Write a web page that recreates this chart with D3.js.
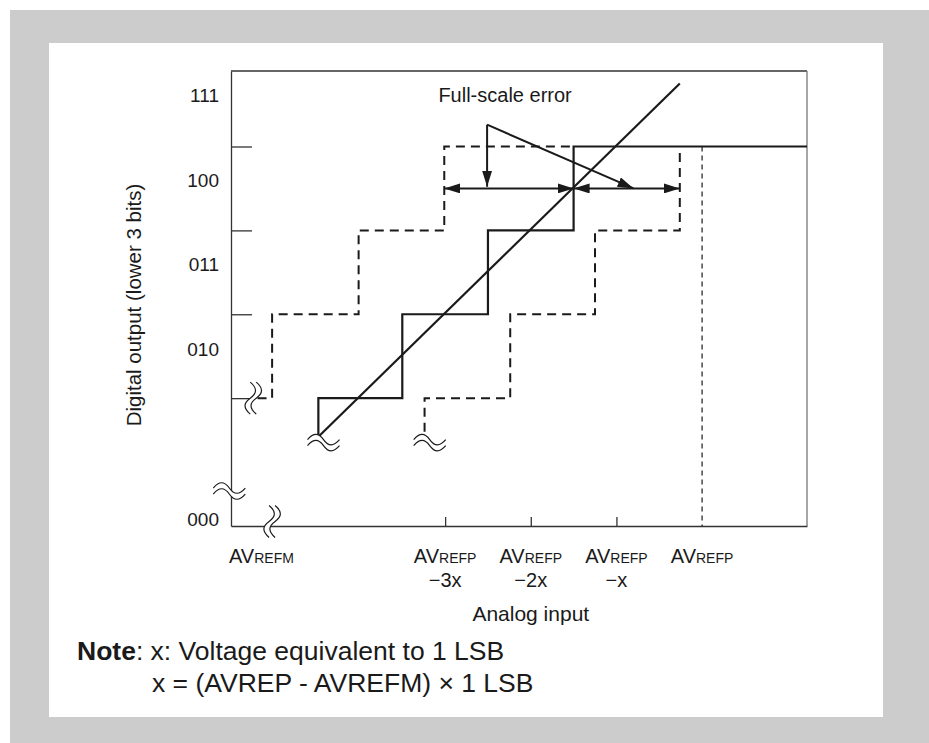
<!DOCTYPE html>
<html>
<head>
<meta charset="utf-8">
<script src="https://cdn.jsdelivr.net/npm/d3@7"></script>
<style>
body { margin: 0; background: #fff; }
svg { display: block; font-family: "Liberation Sans", Arial, sans-serif; }
</style>
</head>
<body>
<div id="chart"></div>
<script>
// y: output code levels (1 unit = 1 LSB step), x: analog input in LSB relative to AVREFP
const codeLabels = ["000", "010", "011", "100", "111"];
const codeLabelLevels = [-0.45, 1.585, 2.59, 3.6, 4.61];
const codeTicks = [1, 2, 3, 4];

const inputTicks = [-3, -2, -1];
const inputLabelPos = [-5.5, -3, -2, -1, 0];
const inputLabelMain = ["AV", "AV", "AV", "AV", "AV"];
const inputLabelSub = ["REFM", "REFP", "REFP", "REFP", "REFP"];
const inputLabelLine2 = ["", "\u22123x", "\u22122x", "\u2212x", ""];

// ideal conversion (solid staircase) and straight transfer line
const idealSteps = [[-4.48, 0.54], [-4.48, 1], [-3.5, 1], [-3.5, 2], [-2.5, 2], [-2.5, 3], [-1.5, 3], [-1.5, 4], [1.225, 4]];
const transferLine = [[-4.48, 0.54], [-0.26, 4.75]];
// full-scale error limits (dashed staircases)
const earlySteps = [[-5.19, 1], [-5.02, 1], [-5.02, 2], [-4.01, 2], [-4.01, 3], [-3.01, 3], [-3.01, 4], [-1.5, 4]];
const lateSteps = [[-3.24, 0.6], [-3.24, 1], [-2.24, 1], [-2.24, 2], [-1.25, 2], [-1.25, 3], [-0.26, 3], [-0.26, 4]];
const refpLine = [[0, 4], [0, -0.524]];

// error spans and callout
const errorSpans = [[-3.01, -1.5], [-1.5, -0.26]];
const spanLevel = 3.5;
const calloutVertex = [-2.51, 4.26];
const calloutTargets = [[-2.51, 3.52], [-0.8, 3.5]];
const calloutText = "Full-scale error";
const calloutTextPos = [-2.3, 4.61];

// break marks
const breaks = [
    { x: -5.52, y: -0.107, dir: "h" },
    { x: -5.02, y: -0.47, dir: "v" },
    { x: -5.24, y: 1, dir: "v" },
    { x: -4.42, y: 0.47, dir: "h" },
    { x: -3.18, y: 0.47, dir: "h" }
];

const W = 929, H = 743;
const svg = d3.select("#chart").append("svg").attr("width", W).attr("height", H);

svg.append("rect").attr("x", 10).attr("y", 10).attr("width", W - 10).attr("height", H - 10).attr("fill", "#cccccc");
svg.append("rect").attr("x", 49).attr("y", 43).attr("width", 834).attr("height", 674).attr("fill", "#ffffff");

const x = d3.scaleLinear().domain([-5.5, 1.225]).range([231, 807]);
const y = d3.scaleLinear().domain([-0.524, 4.9]).range([526, 71]);

const ink = "#1a1a1a";

const defs = svg.append("defs");
defs.append("marker")
    .attr("id", "head")
    .attr("viewBox", "0 0 16 10")
    .attr("refX", 16).attr("refY", 5)
    .attr("markerWidth", 16).attr("markerHeight", 10)
    .attr("markerUnits", "userSpaceOnUse")
    .attr("orient", "auto-start-reverse")
    .append("path").attr("d", "M0,0 L16,5 L0,10 Z").attr("fill", ink);

// frame
svg.append("line").attr("x1", x(-5.5)).attr("x2", x(1.225)).attr("y1", y(4.9)).attr("y2", y(4.9))
    .attr("stroke", "#333").attr("stroke-width", 1.3);
svg.append("line").attr("x1", x(1.225)).attr("x2", x(1.225)).attr("y1", y(4.9)).attr("y2", y(-0.524))
    .attr("stroke", "#777").attr("stroke-width", 1.3);

const xAxis = svg.append("g").attr("transform", `translate(0,${y(-0.524)})`)
    .call(d3.axisBottom(x).tickValues(inputTicks).tickSize(-9).tickSizeOuter(0).tickFormat(""));
const yAxis = svg.append("g").attr("transform", `translate(${x(-5.5)},0)`)
    .call(d3.axisLeft(y).tickValues(codeTicks).tickSize(-21).tickSizeOuter(0).tickFormat(""));
[xAxis, yAxis].forEach(g => {
    g.select(".domain").attr("stroke", "#333").attr("stroke-width", 1.3);
    g.selectAll(".tick line").attr("stroke", "#333").attr("stroke-width", 1.3);
});

const line = d3.line().x(d => x(d[0])).y(d => y(d[1]));

svg.append("path").attr("d", line(refpLine)).attr("fill", "none")
    .attr("stroke", ink).attr("stroke-width", 1.2).attr("stroke-dasharray", "5,4");

svg.append("path").attr("d", line(earlySteps)).attr("fill", "none")
    .attr("stroke", ink).attr("stroke-width", 2).attr("stroke-dasharray", "9,6");
svg.append("path").attr("d", line(lateSteps)).attr("fill", "none")
    .attr("stroke", ink).attr("stroke-width", 2).attr("stroke-dasharray", "9,6");
svg.append("path").attr("d", line(idealSteps)).attr("fill", "none")
    .attr("stroke", ink).attr("stroke-width", 2.2);
svg.append("path").attr("d", line(transferLine)).attr("fill", "none")
    .attr("stroke", ink).attr("stroke-width", 2.2);

// error spans (double-headed arrows)
svg.selectAll(".span").data(errorSpans).join("line")
    .attr("x1", d => x(d[0])).attr("x2", d => x(d[1]))
    .attr("y1", y(spanLevel)).attr("y2", y(spanLevel))
    .attr("stroke", ink).attr("stroke-width", 2)
    .attr("marker-start", "url(#head)").attr("marker-end", "url(#head)");

// callout
svg.selectAll(".callout").data(calloutTargets).join("line")
    .attr("x1", x(calloutVertex[0])).attr("y1", y(calloutVertex[1]))
    .attr("x2", d => x(d[0])).attr("y2", d => y(d[1]))
    .attr("stroke", ink).attr("stroke-width", 2)
    .attr("marker-end", "url(#head)");
svg.append("text").attr("x", x(calloutTextPos[0])).attr("y", y(calloutTextPos[1]))
    .attr("text-anchor", "middle").attr("dominant-baseline", "central")
    .attr("font-size", 20).attr("fill", ink).text(calloutText);

// break marks
function wave(off) {
    return `M${-16},${off} C${-10},${off - 7} ${-5},${off - 7} 0,${off} S${10},${off + 7} 16,${off}`;
}
breaks.forEach(b => {
    const g = svg.append("g")
        .attr("transform", `translate(${x(b.x)},${y(b.y)}) rotate(${b.dir === "v" ? 90 : 0})`);
    g.append("path")
        .attr("d", wave(-3) + ` L16,3 C10,10 5,10 0,3 S-10,-4 -16,3 Z`)
        .attr("fill", "#fff").attr("stroke", "none");
    [-3, 3].forEach(o => g.append("path").attr("d", wave(o))
        .attr("fill", "none").attr("stroke", ink).attr("stroke-width", 1.2));
});

// y labels
svg.selectAll(".ylab").data(codeLabels).join("text")
    .attr("x", 219).attr("y", (d, i) => y(codeLabelLevels[i]))
    .attr("text-anchor", "end").attr("dominant-baseline", "central")
    .attr("font-size", 19).attr("fill", ink).text(d => d);

// x labels
inputLabelPos.forEach((p, i) => {
    const t = svg.append("text")
        .attr("x", i === 0 ? x(p) - 2 : x(p)).attr("y", 563)
        .attr("text-anchor", i === 0 ? "start" : "middle")
        .attr("font-size", 20).attr("fill", ink);
    t.append("tspan").text(inputLabelMain[i]);
    t.append("tspan").attr("font-size", 14).text(inputLabelSub[i]);
    if (inputLabelLine2[i]) {
        svg.append("text").attr("x", x(p)).attr("y", 587)
            .attr("text-anchor", "middle").attr("font-size", 20).attr("fill", ink)
            .text(inputLabelLine2[i]);
    }
});

svg.append("text").attr("x", x(-2)).attr("y", 621).attr("text-anchor", "middle")
    .attr("font-size", 21).attr("fill", ink).text("Analog input");

svg.append("text").attr("transform", "translate(141,305) rotate(-90)")
    .attr("text-anchor", "middle").attr("font-size", 20.5).attr("fill", ink)
    .text("Digital output (lower 3 bits)");

// note
const note = svg.append("text").attr("x", 77).attr("y", 660).attr("font-size", 26.5).attr("fill", ink);
note.append("tspan").attr("font-weight", "bold").text("Note");
note.append("tspan").text(": x: Voltage equivalent to 1 LSB");
svg.append("text").attr("x", 152).attr("y", 692).attr("font-size", 26.5).attr("fill", ink)
    .text("x = (AVREP - AVREFM) \u00d7 1 LSB");
</script>
</body>
</html>
